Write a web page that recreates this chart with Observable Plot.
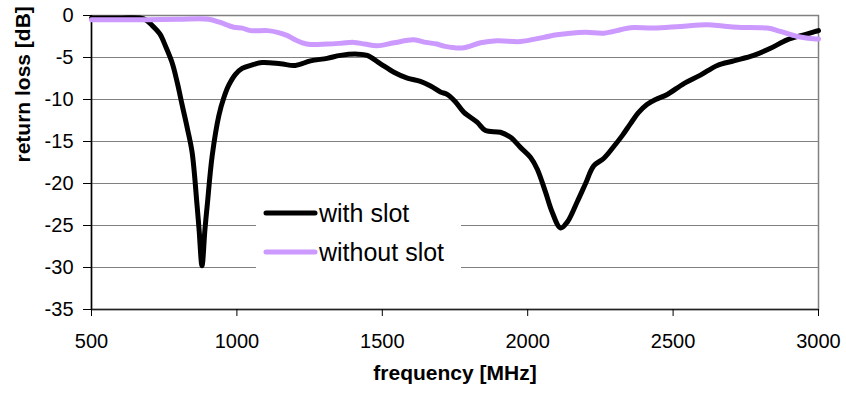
<!DOCTYPE html>
<html>
<head>
<meta charset="utf-8">
<script src="https://cdn.jsdelivr.net/npm/d3@7"></script>
<script src="https://cdn.jsdelivr.net/npm/@observablehq/plot@0.6"></script>
<style>
  html, body { margin: 0; padding: 0; background: #fff; }
  #wrap { position: relative; width: 846px; height: 396px; font-family: "Liberation Sans", Arial, sans-serif; }
  #legend { position: absolute; left: 256px; top: 190px; width: 205px; height: 100px; background: #fff; }
</style>
</head>
<body>
<div id="wrap"></div>
<script>
// ---- data ----
const seriesNames = ["with slot", "without slot"];
const seriesColors = ["#000000", "#CC99FF"];

const withSlotFreq = [500, 600, 680, 709, 735, 754, 777, 795, 812, 830, 846, 863, 870, 880, 890, 898, 915, 938, 955, 972, 995, 1018, 1050, 1087, 1150, 1201, 1253, 1310, 1356, 1414, 1448, 1494, 1540, 1586, 1631, 1666, 1700, 1723, 1752, 1780, 1826, 1855, 1906, 1941, 1975, 2010, 2033, 2061, 2084, 2113, 2136, 2170, 2199, 2227, 2262, 2296, 2325, 2353, 2380, 2410, 2440, 2480, 2537, 2594, 2652, 2709, 2777, 2835, 2892, 2950, 2990, 3000];
const withSlotDb = [-0.3, -0.3, -0.4, -1.2, -2.2, -3.6, -5.6, -8.0, -10.7, -13.5, -16.3, -22.6, -25.5, -29.8, -25.5, -22.6, -16.7, -11.9, -9.8, -8.3, -7.0, -6.3, -5.9, -5.6, -5.75, -5.95, -5.4, -5.1, -4.75, -4.6, -4.75, -5.75, -6.75, -7.45, -7.85, -8.4, -9.1, -9.4, -10.3, -11.5, -12.7, -13.7, -13.9, -14.5, -15.7, -16.9, -18.3, -21.0, -23.4, -25.3, -24.6, -22.2, -20.0, -17.9, -17.0, -15.6, -14.3, -12.9, -11.6, -10.6, -10.0, -9.4, -8.1, -7.1, -5.95, -5.4, -4.75, -3.9, -2.9, -2.3, -1.9, -1.8];

const withoutSlotFreq = [500, 600, 700, 800, 903, 940, 989, 1018, 1047, 1105, 1140, 1174, 1200, 1225, 1253, 1310, 1360, 1402, 1440, 1482, 1540, 1608, 1650, 1688, 1712, 1750, 1780, 1838, 1895, 1975, 2055, 2100, 2147, 2200, 2262, 2319, 2353, 2434, 2525, 2617, 2670, 2720, 2824, 2869, 2927, 2990, 3000];
const withoutSlotDb = [-0.5, -0.5, -0.5, -0.45, -0.45, -0.8, -1.4, -1.5, -1.8, -1.8, -2.0, -2.4, -2.9, -3.25, -3.45, -3.4, -3.3, -3.2, -3.4, -3.6, -3.25, -2.9, -3.2, -3.4, -3.65, -3.85, -3.85, -3.25, -3.0, -3.1, -2.6, -2.3, -2.1, -2.0, -2.1, -1.7, -1.45, -1.5, -1.3, -1.1, -1.25, -1.4, -1.5, -1.9, -2.5, -2.8, -2.8];

const xTicks = [500, 1000, 1500, 2000, 2500, 3000];
const yTicks = [0, -5, -10, -15, -20, -25, -30, -35];
const gridValues = [-5, -10, -15, -20, -25, -30];
const xLabel = "frequency [MHz]";
const yLabel = "return loss [dB]";

// ---- build table ----
const rows = [
  ...withSlotFreq.map((f, i) => ({series: seriesNames[0], f, db: withSlotDb[i]})),
  ...withoutSlotFreq.map((f, i) => ({series: seriesNames[1], f, db: withoutSlotDb[i]}))
];

const W = 846, H = 396;
const fmt = d => String(d);
const chart = Plot.plot({
  width: W,
  height: H,
  marginLeft: 91,
  marginRight: 28,
  marginTop: 15,
  marginBottom: 87,
  style: {fontFamily: "Liberation Sans, Arial, sans-serif", background: "#fff"},
  x: {domain: [500, 3000], ticks: xTicks},
  y: {domain: [-35, 0], ticks: yTicks},
  color: {domain: seriesNames, range: seriesColors},
  marks: [
    Plot.ruleY(gridValues, {stroke: "#808080", strokeWidth: 1.2}),
    Plot.frame({stroke: "#808080", strokeWidth: 1.5}),
    Plot.ruleX([500], {stroke: "#000", strokeWidth: 1.5}),
    Plot.ruleY([-35], {stroke: "#222", strokeWidth: 1.5}),
    Plot.axisX({ticks: xTicks, tickFormat: fmt, tickSize: 7, tickPadding: 17, fontSize: 20, label: null, stroke: "#000"}),
    Plot.axisY({ticks: yTicks, tickFormat: fmt, tickSize: 8, tickPadding: 10, fontSize: 20, label: null, stroke: "#000"}),
    Plot.line(rows, {x: "f", y: "db", z: "series", stroke: "series", strokeWidth: 5, curve: "catmull-rom", strokeLinejoin: "round", strokeLinecap: "round"}),
    Plot.text([xLabel], {frameAnchor: "bottom", dy: 70, text: d => d, fontSize: 21, fontWeight: "bold", fill: "#000"}),
    Plot.text([yLabel], {frameAnchor: "left", dx: -68, rotate: -90, text: d => d, fontSize: 21, fontWeight: "bold", fill: "#000"})
  ]
});
chart.style.color = "#000";
const wrap = document.getElementById("wrap");
wrap.appendChild(chart);

// legend (HTML overlay)
const leg = document.createElement("div");
leg.id = "legend";
const rowsY = [23, 62];
let svg = `<svg width="205" height="100" xmlns="http://www.w3.org/2000/svg" style="font-family: Liberation Sans, Arial, sans-serif">`;
seriesNames.forEach((name, i) => {
  svg += `<line x1="10" x2="59" y1="${rowsY[i]}" y2="${rowsY[i]}" stroke="${seriesColors[i]}" stroke-width="5" stroke-linecap="round"/>`;
  svg += `<text x="63" y="${rowsY[i] + 9}" font-size="25" fill="#000">${name}</text>`;
});
svg += `</svg>`;
leg.innerHTML = svg;
wrap.appendChild(leg);
</script>
</body>
</html>
